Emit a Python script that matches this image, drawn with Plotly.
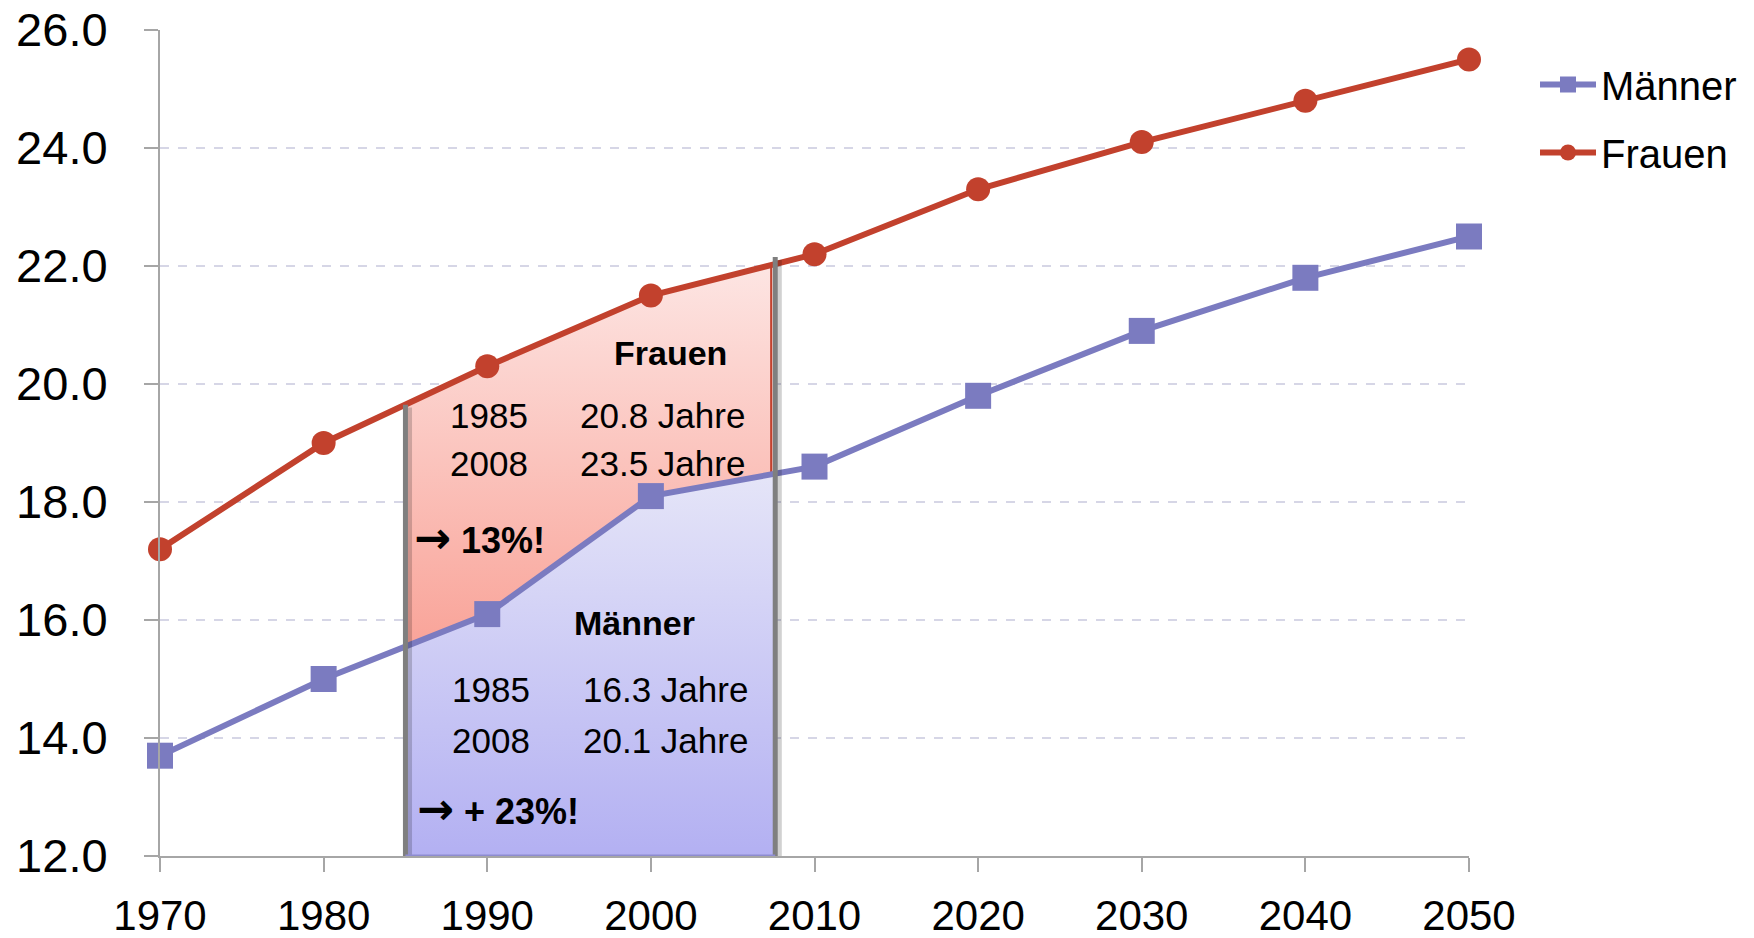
import numpy as np
import plotly.graph_objects as go

# ---- data ----
years = [1970, 1980, 1990, 2000, 2010, 2020, 2030, 2040, 2050]
maenner = [13.7, 15.0, 16.1, 18.1, 18.6, 19.8, 20.9, 21.8, 22.5]
frauen = [17.2, 19.0, 20.3, 21.5, 22.2, 23.3, 24.1, 24.8, 25.5]
y_ticks = [12, 14, 16, 18, 20, 22, 24, 26]
x_ticks = years

box_start = 1985.0
box_end = 2007.6
y_base = 12.0

FONT = "Liberation Sans, Arial, sans-serif"
C_M = "#7b7bc0"
C_F = "#c2412d"

fig = go.Figure()

# ---- highlight region ----
yrs = np.array(years, dtype=float)
inner = [y for y in years if box_start < y < box_end]
xs = [box_start] + inner + [box_end]
f_vals = list(np.interp(xs, yrs, frauen))
m_vals = list(np.interp(xs, yrs, maenner))

fig.add_trace(go.Scatter(
    x=xs + xs[::-1], y=f_vals + m_vals[::-1],
    mode="lines", fill="toself", line=dict(width=0),
    fillgradient=dict(type="vertical",
                      colorscale=[[0, "#f9a398"], [1, "#fde6e4"]],
                      start=15.5, stop=22.1),
    showlegend=False, hoverinfo="skip"))
fig.add_trace(go.Scatter(
    x=xs + [box_end, box_start], y=m_vals + [y_base, y_base],
    mode="lines", fill="toself", line=dict(width=0),
    fillgradient=dict(type="vertical",
                      colorscale=[[0, "#b3b0f2"], [1, "#e6e6f8"]],
                      start=y_base, stop=18.6),
    showlegend=False, hoverinfo="skip"))
fig.add_trace(go.Scatter(x=xs, y=m_vals, mode="lines",
                         line=dict(color=C_F, width=2),
                         showlegend=False, hoverinfo="skip"))
# thin red edge on the right side of the pink band
fig.add_trace(go.Scatter(x=[box_end - 0.25, box_end - 0.25], y=[f_vals[-1], m_vals[-1]],
                         mode="lines", line=dict(color=C_F, width=2),
                         showlegend=False, hoverinfo="skip"))

# ---- series ----
fig.add_trace(go.Scatter(
    x=years, y=maenner, name="Männer", mode="lines+markers",
    legendgroup="m",
    line=dict(color=C_M, width=6),
    marker=dict(symbol="square", size=26, color=C_M),
    cliponaxis=False))
fig.add_trace(go.Scatter(
    x=years, y=frauen, name="Frauen", mode="lines+markers",
    legendgroup="f",
    line=dict(color=C_F, width=6),
    marker=dict(symbol="circle", size=24, color=C_F),
    cliponaxis=False))

# ---- box borders ----
shapes = []
for xb, ytop in [(box_start, f_vals[0]), (box_end, f_vals[-1] + 0.12)]:
    shapes.append(dict(type="line", xref="x", yref="y", x0=xb + 0.25, x1=xb + 0.25,
                       y0=ytop - 0.05, y1=y_base - 0.1,
                       line=dict(color="rgba(0,0,0,0.18)", width=5), layer="above"))
    shapes.append(dict(type="line", xref="x", yref="y", x0=xb, x1=xb,
                       y0=ytop, y1=y_base,
                       line=dict(color="#7f7f7f", width=5), layer="above"))
shapes.append(dict(type="line", xref="x", yref="y", x0=box_start, x1=box_end,
                   y0=y_base - 0.1, y1=y_base - 0.1,
                   line=dict(color="rgba(0,0,0,0.15)", width=4), layer="above"))
shapes.append(dict(type="line", xref="x", yref="y", x0=box_start, x1=box_end,
                   y0=y_base, y1=y_base,
                   line=dict(color="#8d8bd0", width=3), layer="above"))

# ---- annotations ----
ann = []
ARROW = '<span style="font-family:DejaVu Sans;font-size:44px">→</span>'
def txt(x, y, s, bold=False, anchor="center", size=35, family=FONT):
    ann.append(dict(x=x, y=y, xref="x", yref="y", text=f"<b>{s}</b>" if bold else s,
                    showarrow=False, xanchor=anchor, yanchor="middle",
                    font=dict(family=family, size=size, color="black")))

txt(2001.2, 20.53, "Frauen", bold=True, size=34)
txt(1990.1, 19.46, "1985")
txt(2000.7, 19.46, "20.8 Jahre")
txt(1990.1, 18.66, "2008")
txt(2000.7, 18.66, "23.5 Jahre")
txt(1985.4, 17.39, ARROW + " 13%!", bold=True, anchor="left", size=36)
txt(1999.0, 15.95, "Männer", bold=True, size=34)
txt(1990.2, 14.83, "1985")
txt(2000.9, 14.83, "16.3 Jahre")
txt(1990.2, 13.95, "2008")
txt(2000.9, 13.95, "20.1 Jahre")
txt(1985.6, 12.81, ARROW + " + 23%!", bold=True, anchor="left", size=36)

fig.update_layout(
    width=1754, height=938,
    margin=dict(l=160, r=285, t=30, b=82),
    paper_bgcolor="white", plot_bgcolor="white",
    font=dict(family=FONT, size=42, color="black"),
    shapes=shapes, annotations=ann,
    legend=dict(xref="container", yref="container",
                x=1535 / 1754, y=1 - 52 / 938, xanchor="left", yanchor="top",
                font=dict(family=FONT, size=40, color="black"),
                itemwidth=56, traceorder="grouped", tracegroupgap=13,
                bgcolor="rgba(0,0,0,0)"),
    showlegend=True,
)
fig.update_xaxes(range=[1970, 2050], tickvals=x_ticks, ticktext=[str(v) for v in x_ticks],
                 showgrid=False, zeroline=False, automargin=False,
                 showline=True, linecolor="#a6a6a6", linewidth=2,
                 ticks="outside", ticklen=14, tickcolor="#a6a6a6", tickwidth=2,
                 tickfont=dict(size=42), ticklabelstandoff=8)
fig.update_yaxes(range=[12, 26], tickvals=y_ticks, ticktext=[f"{v:.1f}" for v in y_ticks],
                 showgrid=True, gridcolor="#d6d6e6", griddash="dash", gridwidth=1.5,
                 zeroline=False, automargin=False,
                 showline=True, linecolor="#a6a6a6", linewidth=2,
                 ticks="outside", ticklen=14, tickcolor="#a6a6a6", tickwidth=2,
                 tickfont=dict(size=47), ticklabelstandoff=27)

fig.write_html("out.html", config={"displayModeBar": False},
               post_script="document.body.style.margin='0';document.body.style.overflow='hidden';")
